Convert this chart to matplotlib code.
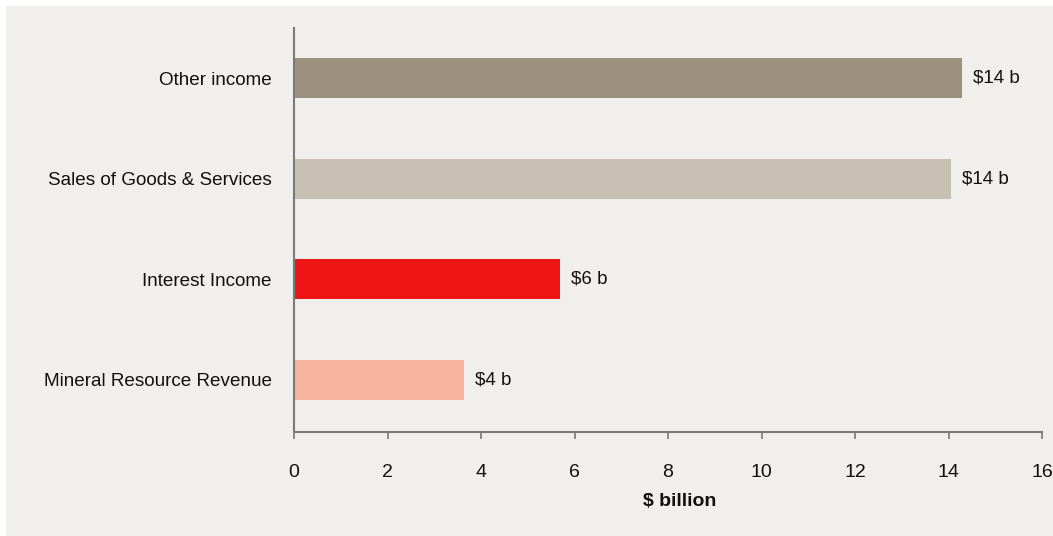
import matplotlib
matplotlib.use('Agg')
import matplotlib.pyplot as plt
from matplotlib.patches import Rectangle

categories = ['Mineral Resource Revenue', 'Interest Income', 'Sales of Goods & Services', 'Other income']
values = [3.64, 5.69, 14.05, 14.29]
value_labels = ['$4 b', '$6 b', '$14 b', '$14 b']
colors = ['#f7b59d', '#ee1515', '#c7bfb2', '#9c917e']

plt.rcParams['font.family'] = ['Liberation Sans', 'DejaVu Sans']

bg = '#f0efeb'
W, H = 1053, 536
fig = plt.figure(figsize=(W / 100, H / 100), dpi=100, facecolor='white')
fig.patches.append(Rectangle((6 / W, 0), 1, 1 - 6 / H, transform=fig.transFigure,
                             facecolor=bg, edgecolor='none', zorder=-10))

ax = fig.add_axes([294 / W, 1 - 432 / H, (1042 - 294) / W, (432 - 28) / H])
ax.set_facecolor(bg)

y = range(len(categories))
ax.barh(y, values, height=0.4, color=colors)
for i, (v, lab) in enumerate(zip(values, value_labels)):
    ax.annotate(lab, (v, i), xytext=(8, 0), textcoords='offset points',
                ha='left', va='center', fontsize=13.5, color='#111111')

ax.set_xlim(0, 16)
ax.set_ylim(-0.52, 3.5)
ax.set_xticks(range(0, 17, 2))
ax.set_yticks(list(y))
ax.set_yticklabels(categories)

for s in ['top', 'right']:
    ax.spines[s].set_visible(False)
for s in ['left', 'bottom']:
    ax.spines[s].set_color('#7a7a7a')
    ax.spines[s].set_linewidth(1.5)

ax.tick_params(axis='x', direction='out', length=5, width=1.2, color='#7a7a7a',
               labelsize=14, pad=18, labelcolor='#111111')
ax.tick_params(axis='y', length=0, labelsize=13.6, pad=16, labelcolor='#111111')

ax.set_xlabel('$ billion', fontsize=14, fontweight='bold', color='#111111')
ax.xaxis.set_label_coords(0.516, -0.15)

fig.savefig('out.png', dpi=100, facecolor=fig.get_facecolor())
